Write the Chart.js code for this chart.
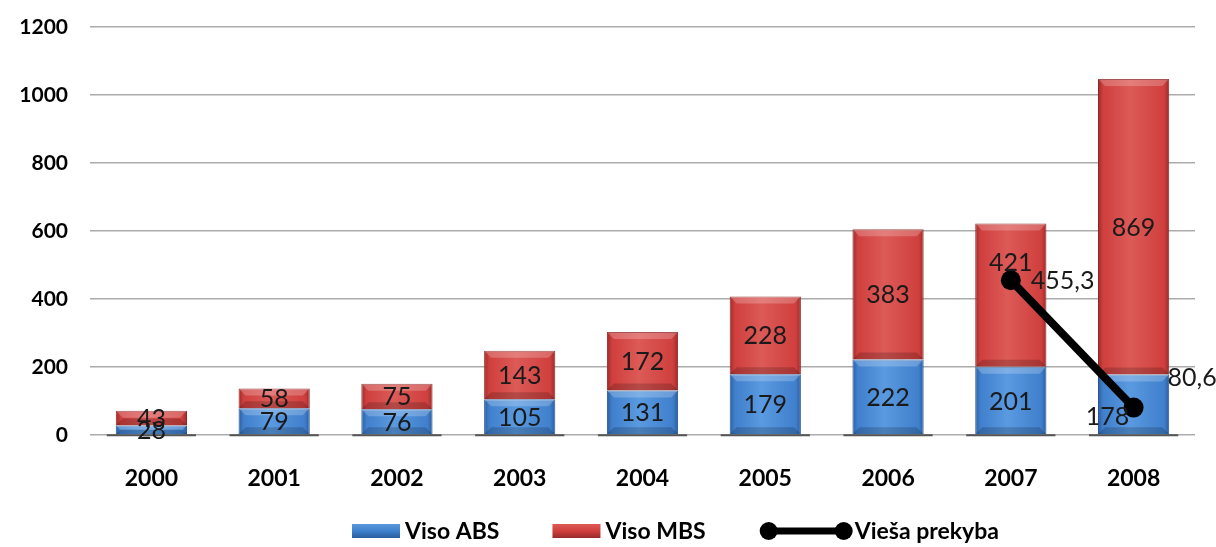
<!DOCTYPE html>
<html lang="lt">
<head>
<meta charset="UTF-8">
<title>Viso ABS / MBS</title>
<script src="https://cdn.jsdelivr.net/npm/chart.js"></script>
<style>
  html, body { margin: 0; padding: 0; background: #fff; }
  #wrap { width: 1216px; height: 547px; }
</style>
</head>
<body>
<div id="wrap"><canvas id="chart"></canvas></div>
<script>
// duomenys
var metai = ['2000', '2001', '2002', '2003', '2004', '2005', '2006', '2007', '2008'];
var visoABS = [28, 79, 76, 105, 131, 179, 222, 201, 178];
var visoMBS = [43, 58, 75, 143, 172, 228, 383, 421, 869];
var viesaPrekyba = [null, null, null, null, null, null, null, 455.3, 80.6];
var yMin = 0, yMax = 1200, yStep = 200;

var FONT = 'Lato, "Open Sans", sans-serif';
var BAR_PCT = 0.58;

// spalvos: [kraštas, pagrindas, šviesus]
var blueTones = ['#2a5d9f', '#3f7fcc', '#5a9ae0'];
var redTones = ['#9a2b2b', '#cf3f3d', '#dc5a57'];

function bevel(c, tones) {
    var xs = c.chart.scales.x;
    if (!xs || c.dataIndex === undefined || !isFinite(xs.width)) return tones[1];
    var cx = xs.getPixelForValue(c.dataIndex);
    var w = xs.width / metai.length * BAR_PCT;
    var g = c.chart.ctx.createLinearGradient(cx - w / 2, 0, cx + w / 2, 0);
    g.addColorStop(0, tones[0]);
    g.addColorStop(0.07, tones[1]);
    g.addColorStop(0.45, tones[2]);
    g.addColorStop(0.93, tones[1]);
    g.addColorStop(1, tones[0]);
    return g;
}

// pilkas šešėlis po stulpeliais
var floorPlugin = {
    id: 'floor',
    beforeDatasetsDraw: function (chart) {
        var ctx = chart.ctx;
        var meta = chart.getDatasetMeta(0);
        ctx.save();
        ctx.fillStyle = '#555555';
        meta.data.forEach(function (el) {
            var p = el.getProps(['x', 'width', 'base'], true);
            ctx.fillRect(p.x - p.width / 2 - 9, p.base, p.width + 18, 2);
        });
        ctx.restore();
    }
};

// stulpelių nuožulos (šviesus viršus, tamsi apačia)
var bevelPlugin = {
    id: 'bevelEdges',
    afterDatasetDraw: function (chart, args) {
        var ds = chart.data.datasets[args.index];
        if (ds.type === 'line') return;
        var ctx = chart.ctx;
        ctx.save();
        args.meta.data.forEach(function (el) {
            var p = el.getProps(['x', 'y', 'width', 'base'], true);
            var l = p.x - p.width / 2, r = p.x + p.width / 2;
            var top = Math.min(p.y, p.base), bot = Math.max(p.y, p.base);
            var d = Math.min(7, (bot - top) / 2);
            ctx.fillStyle = 'rgba(255,255,255,0.22)';
            ctx.beginPath();
            ctx.moveTo(l, top); ctx.lineTo(r, top); ctx.lineTo(r - d, top + d); ctx.lineTo(l + d, top + d);
            ctx.closePath(); ctx.fill();
            ctx.fillStyle = 'rgba(0,0,0,0.18)';
            ctx.beginPath();
            ctx.moveTo(l, bot); ctx.lineTo(r, bot); ctx.lineTo(r - d, bot - d); ctx.lineTo(l + d, bot - d);
            ctx.closePath(); ctx.fill();
        });
        ctx.restore();
    }
};

// reikšmių užrašai
var labelPlugin = {
    id: 'vals',
    afterDatasetsDraw: function (chart) {
        var ctx = chart.ctx;
        ctx.save();
        ctx.font = '25px ' + FONT;
        ctx.fillStyle = '#1a1a1a';
        ctx.textBaseline = 'middle';
        chart.data.datasets.forEach(function (ds, di) {
            var meta = chart.getDatasetMeta(di);
            var shifts = ds.labelShift || {};
            meta.data.forEach(function (el, i) {
                var v = ds.data[i];
                if (v === null || v === undefined) return;
                var p = el.getProps(['x', 'y', 'base'], true);
                var txt = String(v).replace('.', ',');
                if (ds.type === 'line') {
                    var sh = shifts[i] || [22, 0];
                    ctx.textAlign = 'left';
                    ctx.fillText(txt, p.x + sh[0], p.y + sh[1]);
                } else {
                    var s = shifts[i] || [0, 0];
                    ctx.textAlign = 'center';
                    ctx.fillText(txt, p.x + s[0], (p.y + p.base) / 2 + 1 + s[1]);
                }
            });
        });
        ctx.restore();
    }
};

// legenda apačioje
var legendPlugin = {
    id: 'legendaApacioje',
    afterDraw: function (chart) {
        var ctx = chart.ctx;
        var cy = 531;
        ctx.save();
        ctx.font = 'bold 23px ' + FONT;
        ctx.textBaseline = 'middle';
        ctx.textAlign = 'left';
        var spacing = 53;
        var x = 352;
        chart.data.datasets.forEach(function (ds, k) {
            var isLine = ds.type === 'line';
            var icon = isLine ? 95 : 48, gap = isLine ? 1 : 5;
            if (k) x += spacing;
            if (isLine) {
                ctx.strokeStyle = '#000';
                ctx.lineWidth = 7;
                ctx.beginPath();
                ctx.moveTo(x + 10, cy);
                ctx.lineTo(x + icon - 10, cy);
                ctx.stroke();
                ctx.fillStyle = '#000';
                [x + 10, x + icon - 10].forEach(function (px) {
                    ctx.beginPath();
                    ctx.arc(px, cy, 9, 0, Math.PI * 2);
                    ctx.fill();
                });
            } else {
                var tones = ds.tones;
                var g = ctx.createLinearGradient(0, cy - 7, 0, cy + 7);
                g.addColorStop(0, tones[2]);
                g.addColorStop(0.5, tones[1]);
                g.addColorStop(1, tones[0]);
                ctx.fillStyle = g;
                ctx.fillRect(x, cy - 7, icon, 14);
            }
            x += icon + gap;
            ctx.fillStyle = '#000';
            ctx.fillText(ds.label, x, cy + 1);
            x += ctx.measureText(ds.label).width;
        });
        ctx.restore();
    }
};

var ctx = document.getElementById('chart').getContext('2d');
var chart = new Chart(ctx, {
    type: 'bar',
    data: {
        labels: metai,
        datasets: [{
            label: 'Viso ABS',
            data: visoABS,
            tones: blueTones,
            labelShift: { 8: [-26, 12] },
            backgroundColor: function (c) { return bevel(c, blueTones); },
            borderColor: '#2a5590',
            borderWidth: 1,
            stack: 's',
            order: 2
        }, {
            label: 'Viso MBS',
            data: visoMBS,
            tones: redTones,
            labelShift: { 7: [0, -33] },
            backgroundColor: function (c) { return bevel(c, redTones); },
            borderColor: '#8e2626',
            borderWidth: 1,
            stack: 's',
            order: 2
        }, {
            type: 'line',
            label: 'Vieša prekyba',
            data: viesaPrekyba,
            labelShift: { 7: [20, 1], 8: [34, -30] },
            borderColor: '#000',
            backgroundColor: '#000',
            borderWidth: 8,
            pointRadius: 10,
            pointHoverRadius: 10,
            pointBackgroundColor: '#000',
            pointBorderWidth: 0,
            spanGaps: false,
            order: 1
        }]
    },
    options: {
        responsive: true,
        maintainAspectRatio: false,
        animation: false,
        events: [],
        layout: { padding: { top: 27, right: 21, left: 0, bottom: 50 } },
        datasets: { bar: { categoryPercentage: BAR_PCT, barPercentage: 1 } },
        plugins: {
            legend: { display: false },
            tooltip: { enabled: false }
        },
        scales: {
            x: {
                stacked: true,
                grid: { display: false, drawTicks: false },
                border: { display: false },
                ticks: { color: '#000', font: { family: FONT, size: 23, weight: 'bold' }, padding: 30 },
                afterFit: function (s) { s.height = 62; s.paddingLeft = 0; s.paddingRight = 0; }
            },
            y: {
                stacked: true,
                min: yMin,
                max: yMax,
                grid: { color: '#ababab', lineWidth: 1.5, drawTicks: false },
                border: { display: false },
                ticks: {
                    stepSize: yStep, color: '#000', padding: 22,
                    font: { family: FONT, size: 21, weight: 'bold' },
                    callback: function (v) { return String(v); }
                },
                afterFit: function (s) { s.width = 90; s.paddingTop = 0; s.paddingBottom = 0; }
            }
        }
    },
    plugins: [floorPlugin, bevelPlugin, labelPlugin, legendPlugin]
});
</script>
</body>
</html>
